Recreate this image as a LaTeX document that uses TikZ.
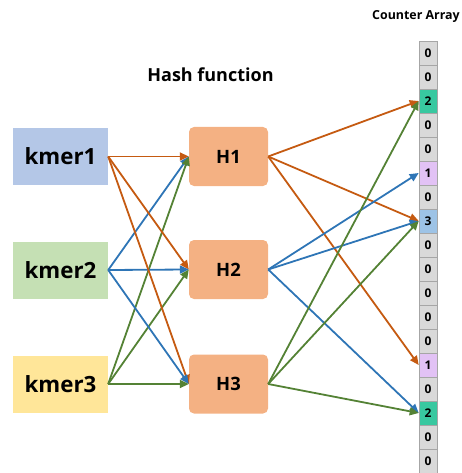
\documentclass[tikz,border=0pt]{standalone}
\usepackage{fontspec}
\setmainfont{Open Sans}
\usetikzlibrary{arrows.meta}
\definecolor{cOr}{HTML}{C55A11}
\definecolor{cBl}{HTML}{2E75B6}
\definecolor{cGr}{HTML}{548235}
\definecolor{fK1}{HTML}{B4C7E7}
\definecolor{fK2}{HTML}{C5E0B4}
\definecolor{fK3}{HTML}{FFE699}
\definecolor{fH}{HTML}{F4B183}
\definecolor{fCell}{HTML}{D9D9D9}
\definecolor{bCell}{HTML}{A6A6A6}
\definecolor{fTeal}{HTML}{38C8A0}
\definecolor{fPur}{HTML}{E2C2F5}
\definecolor{fBlu}{HTML}{9DC3E6}
\tikzset{
  kbox/.style={minimum width=95pt, minimum height=57pt, inner sep=0pt, font=\fontsize{22.3}{26}\selectfont\bfseries},
  hbox/.style={fill=fH, rounded corners=5pt, minimum width=79pt, minimum height=59pt, inner sep=0pt, font=\fontsize{18.4}{21}\selectfont\bfseries},
  cellbox/.style={fill=fCell, draw=bCell, line width=0.6pt, minimum width=18pt, minimum height=24pt, inner sep=0pt, font=\fontsize{12}{14}\selectfont\bfseries},
  arr/.style={line width=1.8pt, -{Triangle[length=9pt,width=8pt]}},
}
\begin{document}
\begin{tikzpicture}[x=1pt,y=-1pt]
\useasboundingbox (0,0) rectangle (462,473);
\node[font=\fontsize{12.4}{14}\selectfont\bfseries] (tca) at (416,17) {Counter Array};
\node[font=\fontsize{18}{21}\selectfont\bfseries] (thf) at (210.5,75) {Hash function};

\node[kbox, fill=fK1] (k1) at (60.5,156.5) {kmer1};
\node[kbox, fill=fK2] (k2) at (60.5,270) {kmer2};
\node[kbox, fill=fK3] (k3) at (60.5,384) {kmer3};

\node[hbox] (h1) at (228.5,156.5) {H1};
\node[hbox] (h2) at (228.5,269.5) {H2};
\node[hbox] (h3) at (228.5,384) {H3};

\foreach \v [count=\i from 0] in {0,0,2,0,0,1,0,3,0,0,0,0,0,1,0,2,0,0} {
  \node[cellbox] (c\i) at (428,{53+24*\i}) {\v};
}
\node[cellbox, fill=fTeal] at (c2) {2};
\node[cellbox, fill=fPur] at (c5) {1};
\node[cellbox, fill=fBlu] at (c7) {3};
\node[cellbox, fill=fPur] at (c13) {1};
\node[cellbox, fill=fTeal] at (c15) {2};

\foreach \h in {h1,h2,h3} {
  \draw[arr, cOr] (k1.east) -- (\h.west);
  \draw[arr, cBl] (k2.east) -- (\h.west);
  \draw[arr, cGr] (k3.east) -- (\h.west);
}

\draw[arr, cOr] (h1.east) -- (c2.west);
\draw[arr, cOr] (h1.east) -- (c7.west);
\draw[arr, cOr] (h1.east) -- (c13.west);
\draw[arr, cBl] (h2.east) -- (c5.west);
\draw[arr, cBl] (h2.east) -- (c7.west);
\draw[arr, cBl] (h2.east) -- (c15.west);
\draw[arr, cGr] (h3.east) -- (c2.west);
\draw[arr, cGr] (h3.east) -- (c7.west);
\draw[arr, cGr] (h3.east) -- (c15.west);
\end{tikzpicture}
\end{document}
